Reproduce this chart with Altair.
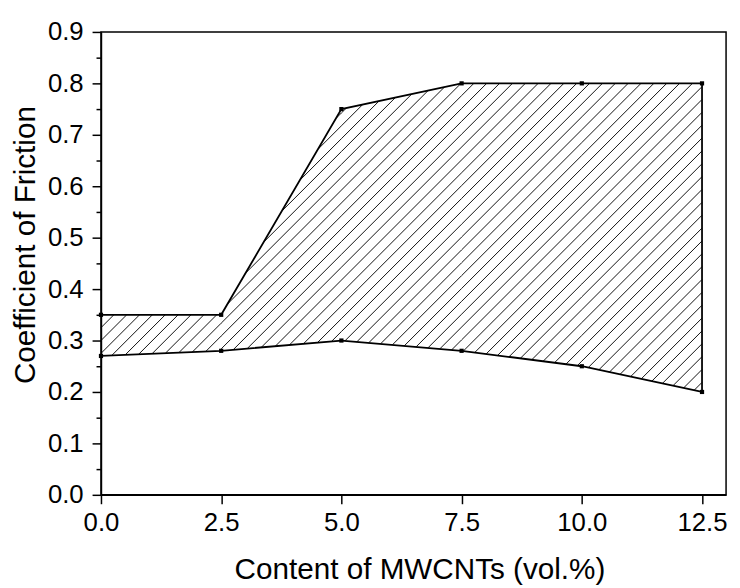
import altair as alt
import numpy as np
import pandas as pd

# ---- data ----
content = [0.0, 2.5, 5.0, 7.5, 10.0, 12.5]
cof_upper = [0.35, 0.35, 0.75, 0.80, 0.80, 0.80]
cof_lower = [0.27, 0.28, 0.30, 0.28, 0.25, 0.20]
x_ticks = [0.0, 2.5, 5.0, 7.5, 10.0, 12.5]
y_ticks = [0.0, 0.05, 0.1, 0.15, 0.2, 0.25, 0.3, 0.35, 0.4, 0.45,
           0.5, 0.55, 0.6, 0.65, 0.7, 0.75, 0.8, 0.85, 0.9]

W, H = 632, 468
XMAX, YMAX = 13.0, 0.9
FONT = "Liberation Sans"

# ---- hatch lines (45 deg in pixel space) clipped to the band ----
m = (W / XMAX) / (H / YMAX)      # data slope giving 45 deg on screen
step = 13.0 / (H / YMAX)          # ~13 px spacing
offsets = np.arange(-1.3, 1.0, step)


def pos_interval(h0, h1):
    if h0 >= 0 and h1 >= 0:
        return (0.0, 1.0)
    if h0 < 0 and h1 < 0:
        return None
    t = h0 / (h0 - h1)
    return (0.0, t) if h0 >= 0 else (t, 1.0)


rows = []
for i in range(len(content) - 1):
    x0, x1 = content[i], content[i + 1]
    L0, L1 = cof_lower[i], cof_lower[i + 1]
    U0, U1 = cof_upper[i], cof_upper[i + 1]
    for b in offsets:
        y0, y1 = b + m * x0, b + m * x1
        a = pos_interval(y0 - L0, y1 - L1)
        c = pos_interval(U0 - y0, U1 - y1)
        if a is None or c is None:
            continue
        t0, t1 = max(a[0], c[0]), min(a[1], c[1])
        if t1 - t0 <= 1e-6:
            continue
        xa, xb = x0 + t0 * (x1 - x0), x0 + t1 * (x1 - x0)
        rows.append({"x": xa, "y": b + m * xa, "x2": xb, "y2": b + m * xb})
hatch_df = pd.DataFrame(rows)

upper_df = pd.DataFrame({"x": content, "y": cof_upper})
lower_df = pd.DataFrame({"x": content, "y": cof_lower})
edge_df = pd.DataFrame({"x": [content[-1]], "y": [cof_lower[-1]], "y2": [cof_upper[-1]]})

xscale = alt.Scale(domain=[0, XMAX], nice=False, zero=False)
yscale = alt.Scale(domain=[0, YMAX], nice=False, zero=False)

major_test = "abs(round(datum.value * 100) % 10) < 0.5"

xaxis = alt.Axis(
    values=x_ticks, format=".1f", grid=False, labelFlush=False, labelOverlap=False,
    tickSize=9, tickWidth=1.5, tickColor="black", domainColor="black", domainWidth=1.5,
    labelFontSize=26, labelColor="black", labelPadding=6, labelFont=FONT,
    title="Content of MWCNTs (vol.%)", titleFontSize=30, titleFontWeight="normal",
    titleFont=FONT, titleColor="black", titleX=322, titleY=85,
    titleAlign="center", titleBaseline="alphabetic", zindex=1,
)
yaxis = alt.Axis(
    values=y_ticks, grid=False, labelOverlap=False, labelFlush=False,
    labelExpr=f"({major_test}) ? format(datum.value, '.1f') : ''",
    tickSize={"condition": {"test": major_test, "value": 9}, "value": 5},
    tickWidth=1.5, tickColor="black", domainColor="black", domainWidth=1.5,
    labelFontSize=26, labelColor="black", labelPadding=9, labelFont=FONT,
    title="Coefficient of Friction", titleFontSize=30, titleFontWeight="normal",
    titleFont=FONT, titleColor="black", titleX=-67, titleY=215, titleAngle=270,
    titleAlign="center", titleBaseline="alphabetic", zindex=1,
)

X = alt.X("x:Q", scale=xscale, axis=xaxis)
Y = alt.Y("y:Q", scale=yscale, axis=yaxis)

hatch = alt.Chart(hatch_df).mark_rule(color="#111111", strokeWidth=1).encode(
    x=X, y=Y, x2="x2:Q", y2="y2:Q"
)
upper_line = alt.Chart(upper_df).mark_line(color="black", strokeWidth=1.8).encode(x=X, y=Y)
lower_line = alt.Chart(lower_df).mark_line(color="black", strokeWidth=1.8).encode(x=X, y=Y)
edge = alt.Chart(edge_df).mark_rule(color="black", strokeWidth=1.8).encode(x=X, y=Y, y2="y2:Q")
upper_pts = alt.Chart(upper_df).mark_square(size=18, color="black", opacity=1).encode(x=X, y=Y)
lower_pts = alt.Chart(lower_df).mark_square(size=18, color="black", opacity=1).encode(x=X, y=Y)

chart = (
    alt.layer(hatch, upper_line, lower_line, edge, upper_pts, lower_pts)
    .properties(
        width=W, height=H,
        autosize=alt.AutoSizeParams(type="none"),
        padding={"left": 94, "top": 21, "right": 6, "bottom": 91},
        background="white",
    )
    .configure_view(stroke="black", strokeWidth=1.5)
)

chart.save("out.html", embed_options={"renderer": "svg", "actions": False})
